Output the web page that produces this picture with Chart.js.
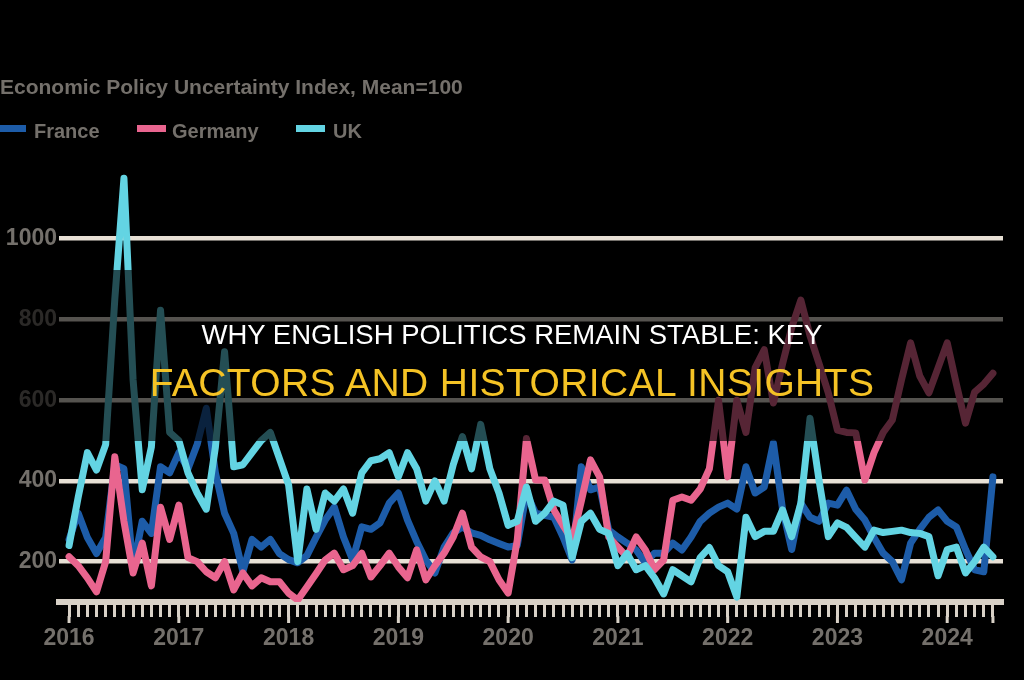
<!DOCTYPE html>
<html>
<head>
<meta charset="utf-8">
<script src="https://cdn.jsdelivr.net/npm/chart.js@4.4.1/dist/chart.umd.min.js"></script>
<style>
  html, body { margin:0; padding:0; background:#000; width:1024px; height:680px; overflow:hidden; }
  #wrap { position:relative; width:1024px; height:680px; font-family:"Liberation Sans", Arial, sans-serif; }
  #chart { position:absolute; left:0; top:0; }
  .t { position:absolute; white-space:nowrap; }
  #title { left:0; top:76px; font-size:21px; line-height:21px; font-weight:bold; color:#74706b; }
  .lg { top:121px; font-size:20px; line-height:20px; font-weight:bold; color:#74706b; }
  .mk { position:absolute; top:125px; height:7px; }
  #band { position:absolute; left:0; top:270px; width:1024px; height:171px; background:rgba(0,0,0,0.63); }
  #h1 { left:0; width:1024px; text-align:center; top:321px; font-size:27.5px; line-height:27.5px; color:#ffffff; }
  #h2 { left:0; width:1024px; text-align:center; top:363px; font-size:39px; line-height:39px; color:#f5c325; letter-spacing:0.4px; }
</style>
</head>
<body>
<div id="wrap">
  <canvas id="chart" width="1024" height="680"></canvas>
  <div id="title" class="t">Economic Policy Uncertainty Index, Mean=100</div>
  <div class="mk" style="left:0;width:26px;background:#1d5ca8"></div>
  <div class="t lg" style="left:34px">France</div>
  <div class="mk" style="left:137px;width:29px;background:#e9658f"></div>
  <div class="t lg" style="left:172px">Germany</div>
  <div class="mk" style="left:296px;width:29px;background:#63d4e3"></div>
  <div class="t lg" style="left:333px">UK</div>
  <div id="band"></div>
  <div id="h1" class="t">WHY ENGLISH POLITICS REMAIN STABLE: KEY</div>
  <div id="h2" class="t">FACTORS AND HISTORICAL INSIGHTS</div>
</div>
<script>
// Monthly data, Jan 2016 .. Jun 2024
const years = ['2016','2017','2018','2019','2020','2021','2022','2023','2024'];
const yTicks = [200, 400, 600, 800, 1000];

const france = [255,320,260,220,260,440,430,185,300,270,435,420,
                470,430,490,580,420,320,270,175,255,236,255,220,
                205,197,215,260,303,335,261,204,286,280,296,345,
                370,303,250,204,172,236,271,286,271,265,254,245,
                236,240,370,320,315,310,261,204,435,378,385,278,
                261,246,229,197,221,221,246,229,261,300,320,335,
                345,330,435,370,385,494,330,230,345,310,300,345,
                340,377,330,303,260,221,200,155,246,280,310,328,
                300,286,230,180,175,410];

const germany = [212,190,160,125,200,460,300,172,246,140,335,255,
                 340,210,200,175,160,200,130,172,140,160,150,150,
                 122,105,137,170,204,221,180,190,221,162,190,221,
                 187,160,229,155,190,221,261,320,236,212,200,155,
                 122,254,505,402,402,328,290,254,350,452,410,261,
                 236,212,261,229,180,204,352,360,352,380,430,600,
                 410,600,520,680,725,593,690,780,848,760,690,618,
                 526,520,519,402,470,520,551,650,742,660,618,680,
                 742,640,543,620,640,667];

const uk = [240,360,470,427,490,850,1150,650,378,484,823,520,
            500,420,370,330,484,720,435,440,470,500,520,455,
            390,200,380,280,370,350,380,320,420,450,455,470,
            410,470,430,350,400,350,440,510,430,540,430,370,
            290,300,385,300,320,350,340,210,300,320,280,270,
            190,220,180,190,160,120,180,165,150,210,235,190,
            175,112,310,262,275,275,328,262,345,555,400,262,
            296,285,260,236,278,272,275,278,272,270,262,165,
            230,236,172,200,236,212];

const monthIdx = uk.map((_, i) => i);
const toXY = arr => arr.map((v, i) => ({ x: i, y: v }));

const tickColor = '#d8d1c7';
const labelColor = '#74706b';
const LW = 7;

const majorTicks = {
  id: 'majorTicks',
  afterDraw(chart) {
    const s = chart.scales.x;
    const c = chart.ctx;
    c.save();
    c.fillStyle = tickColor;
    const y0 = s.top + 14;
    monthIdx.forEach(v => {
      if (v % 12 === 0 || v === monthIdx.length - 1) {
        const px = s.getPixelForValue(v);
        c.fillRect(px - 1.5, y0, 3, 7);
      }
    });
    c.restore();
  }
};

new Chart(document.getElementById('chart'), {
  type: 'line',
  data: {
    datasets: [
      { label: 'France', data: toXY(france), borderColor: '#1d5ca8', borderWidth: LW, order: 3 },
      { label: 'Germany', data: toXY(germany), borderColor: '#e9658f', borderWidth: LW, order: 2 },
      { label: 'UK', data: toXY(uk), borderColor: '#63d4e3', borderWidth: LW, order: 1 }
    ]
  },
  options: {
    responsive: false,
    animation: false,
    devicePixelRatio: 1,
    layout: { padding: { top: 158, right: 21, left: 0, bottom: 0 } },
    plugins: { legend: { display: false }, title: { display: false }, tooltip: { enabled: false } },
    elements: {
      point: { radius: 0 },
      line: { tension: 0, borderJoinStyle: 'round', borderCapStyle: 'round', fill: false }
    },
    scales: {
      x: {
        type: 'linear', min: -1.1, max: 102.1,
        afterFit(s) { s.height = 78; },
        afterBuildTicks(s) { s.ticks = monthIdx.map(v => ({ value: v })); },
        ticks: {
          autoSkip: false, maxRotation: 0, minRotation: 0, padding: 8,
          color: labelColor,
          font: { family: 'Liberation Sans', size: 23, weight: 'bold' },
          callback: v => (v % 12 === 0 ? years[v / 12] : '')
        },
        grid: { drawOnChartArea: false, drawTicks: true, tickLength: 15, tickWidth: 3, tickColor: tickColor },
        border: { display: true, width: 6, color: tickColor }
      },
      y: {
        min: 100, max: 1200,
        afterFit(s) { s.width = 59; },
        afterBuildTicks(s) { s.ticks = yTicks.map(v => ({ value: v })); },
        ticks: {
          padding: 2, color: labelColor,
          font: { family: 'Liberation Sans', size: 23, weight: 'bold' },
          callback: v => String(v)
        },
        grid: { color: '#e7e0d5', lineWidth: 4.5, drawTicks: false },
        border: { display: false }
      }
    }
  },
  plugins: [majorTicks]
});
</script>
</body>
</html>
